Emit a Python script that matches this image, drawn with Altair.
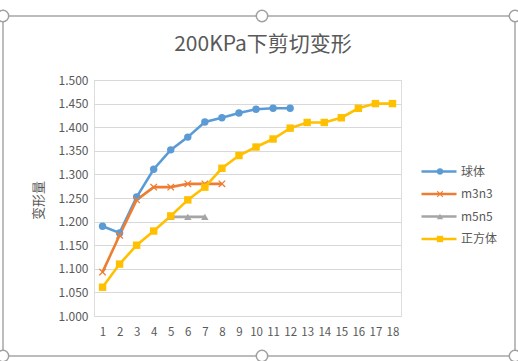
import altair as alt
import pandas as pd

series_names = ["球体", "m3n3", "m5n5", "正方体"]
colors = ["#5B9BD5", "#ED7D31", "#A5A5A5", "#FFC000"]
x_labels = list(range(1, 19))

sphere_x = list(range(1, 13))
sphere_y = [1.190, 1.176, 1.252, 1.311, 1.352, 1.379, 1.411, 1.420, 1.430, 1.438, 1.440, 1.440]
m3n3_x = list(range(1, 9))
m3n3_y = [1.093, 1.171, 1.246, 1.273, 1.273, 1.280, 1.280, 1.280]
m5n5_x = [5, 6, 7]
m5n5_y = [1.210, 1.210, 1.210]
cube_x = list(range(1, 19))
cube_y = [1.061, 1.110, 1.150, 1.180, 1.212, 1.246, 1.273, 1.313, 1.340, 1.358,
          1.375, 1.398, 1.410, 1.410, 1.420, 1.440, 1.450, 1.450]
y_ticks = [1.0, 1.05, 1.1, 1.15, 1.2, 1.25, 1.3, 1.35, 1.4, 1.45, 1.5]
title_text = "200KPa下剪切变形"

rows = []
for name, xs, ys in [("球体", sphere_x, sphere_y), ("m3n3", m3n3_x, m3n3_y),
                     ("m5n5", m5n5_x, m5n5_y), ("正方体", cube_x, cube_y)]:
    for xv, yv in zip(xs, ys):
        rows.append({"序号": xv, "变形量": yv, "系列": name})
df = pd.DataFrame(rows)
title_df = pd.DataFrame({"t": [title_text]})

FONT = "Noto Sans CJK SC"
TXT = "#595959"
xpath = "M-1,-0.75L-0.75,-1L0,-0.25L0.75,-1L1,-0.75L0.25,0L1,0.75L0.75,1L0,0.25L-0.75,1L-1,0.75L-0.25,0Z"
shapes = ["circle", xpath, "triangle-up", "square"]

x_enc = alt.X("序号:O", sort=x_labels,
              scale=alt.Scale(type="point", domain=x_labels, padding=0.5),
              axis=alt.Axis(title=None, labelAngle=0, labelFontSize=11.5, labelColor=TXT,
                            labelFont=FONT, ticks=False, domain=True, domainColor="#D9D9D9",
                            labelPadding=10, grid=False))
y_enc = alt.Y("变形量:Q",
              scale=alt.Scale(domain=[1.0, 1.5], nice=False, zero=False),
              axis=alt.Axis(values=y_ticks, format=".3f", title="变形量", labelFontSize=12,
                            labelColor=TXT, labelFont=FONT, ticks=False, domain=False,
                            gridColor="#D9D9D9", labelPadding=6,
                            titleFont=FONT, titleFontSize=13, titleColor=TXT,
                            titleFontWeight="normal", titleX=-56, titleY=120,
                            titleAngle=270, titleAlign="center", titleBaseline="middle"))

line_legend = alt.Legend(title=None, orient="none", legendX=339, legendY=85.5,
                         symbolType="M-5,0L5,0", symbolSize=49,
                         symbolStrokeWidth=2.6, labelFontSize=12,
                         labelColor=TXT, labelFont=FONT, rowPadding=10.5,
                         labelOffset=16, padding=0)
point_legend = alt.Legend(title=None, orient="none", legendX=340, legendY=85.5,
                          symbolSize=40, labelFontSize=12, labelOpacity=0,
                          labelExpr="' '",
                          labelFont=FONT, rowPadding=10.5, padding=0,
                          symbolStrokeWidth=0)

lines = alt.Chart(df).mark_line(strokeWidth=2.6).encode(
    x=x_enc, y=y_enc,
    color=alt.Color("系列:N", scale=alt.Scale(domain=series_names, range=colors),
                    legend=line_legend),
    detail="系列:N",
)

points = alt.Chart(df).mark_point(filled=True, size=55, opacity=1).encode(
    x=x_enc, y=y_enc,
    color=alt.Color("系列:N", scale=alt.Scale(domain=series_names, range=colors),
                    legend=point_legend),
    shape=alt.Shape("系列:N", scale=alt.Scale(domain=series_names, range=shapes),
                    legend=point_legend),
)

title_mark = alt.Chart(title_df).mark_text(font=FONT, fontSize=21, color=TXT,
                                           align="center", baseline="middle").encode(
    text="t:N", x=alt.value(169), y=alt.value(-35))

frame_color = "#BDBDBD"
top_rule = alt.Chart(df).mark_rule(color=frame_color, strokeWidth=1.5).encode(
    x=alt.value(-91), x2=alt.value(421), y=alt.value(-64))
bottom_rule = alt.Chart(df).mark_rule(color=frame_color, strokeWidth=1.5).encode(
    x=alt.value(-91), x2=alt.value(421), y=alt.value(276))
left_rule = alt.Chart(df).mark_rule(color=frame_color, strokeWidth=1.5).encode(
    x=alt.value(-91), y=alt.value(-64), y2=alt.value(276))
right_rule = alt.Chart(df).mark_rule(color=frame_color, strokeWidth=1.5).encode(
    x=alt.value(421), y=alt.value(-64), y2=alt.value(276))

handle_layers = []
for hx, hy in [(-91, -64), (168, -64), (421, -64), (-91, 276), (168, 276), (421, 276)]:
    handle_layers.append(
        alt.Chart(title_df).mark_point(filled=True, fill="white", stroke="#A0A0A0",
                                       strokeWidth=1.5, size=130, shape="circle",
                                       opacity=1).encode(
            x=alt.value(hx), y=alt.value(hy)))

chart = alt.layer(top_rule, bottom_rule, left_rule, right_rule, lines, points,
                  title_mark, *handle_layers).resolve_legend(
    color="independent", shape="independent"
).properties(
    width=307, height=236,
    padding={"left": 94, "top": 80, "right": 117, "bottom": 45},
    autosize=alt.AutoSizeParams(type="none"),
).configure_view(stroke=None).configure(background="white")

chart.save("out.html", embed_options={"renderer": "svg", "actions": False})
